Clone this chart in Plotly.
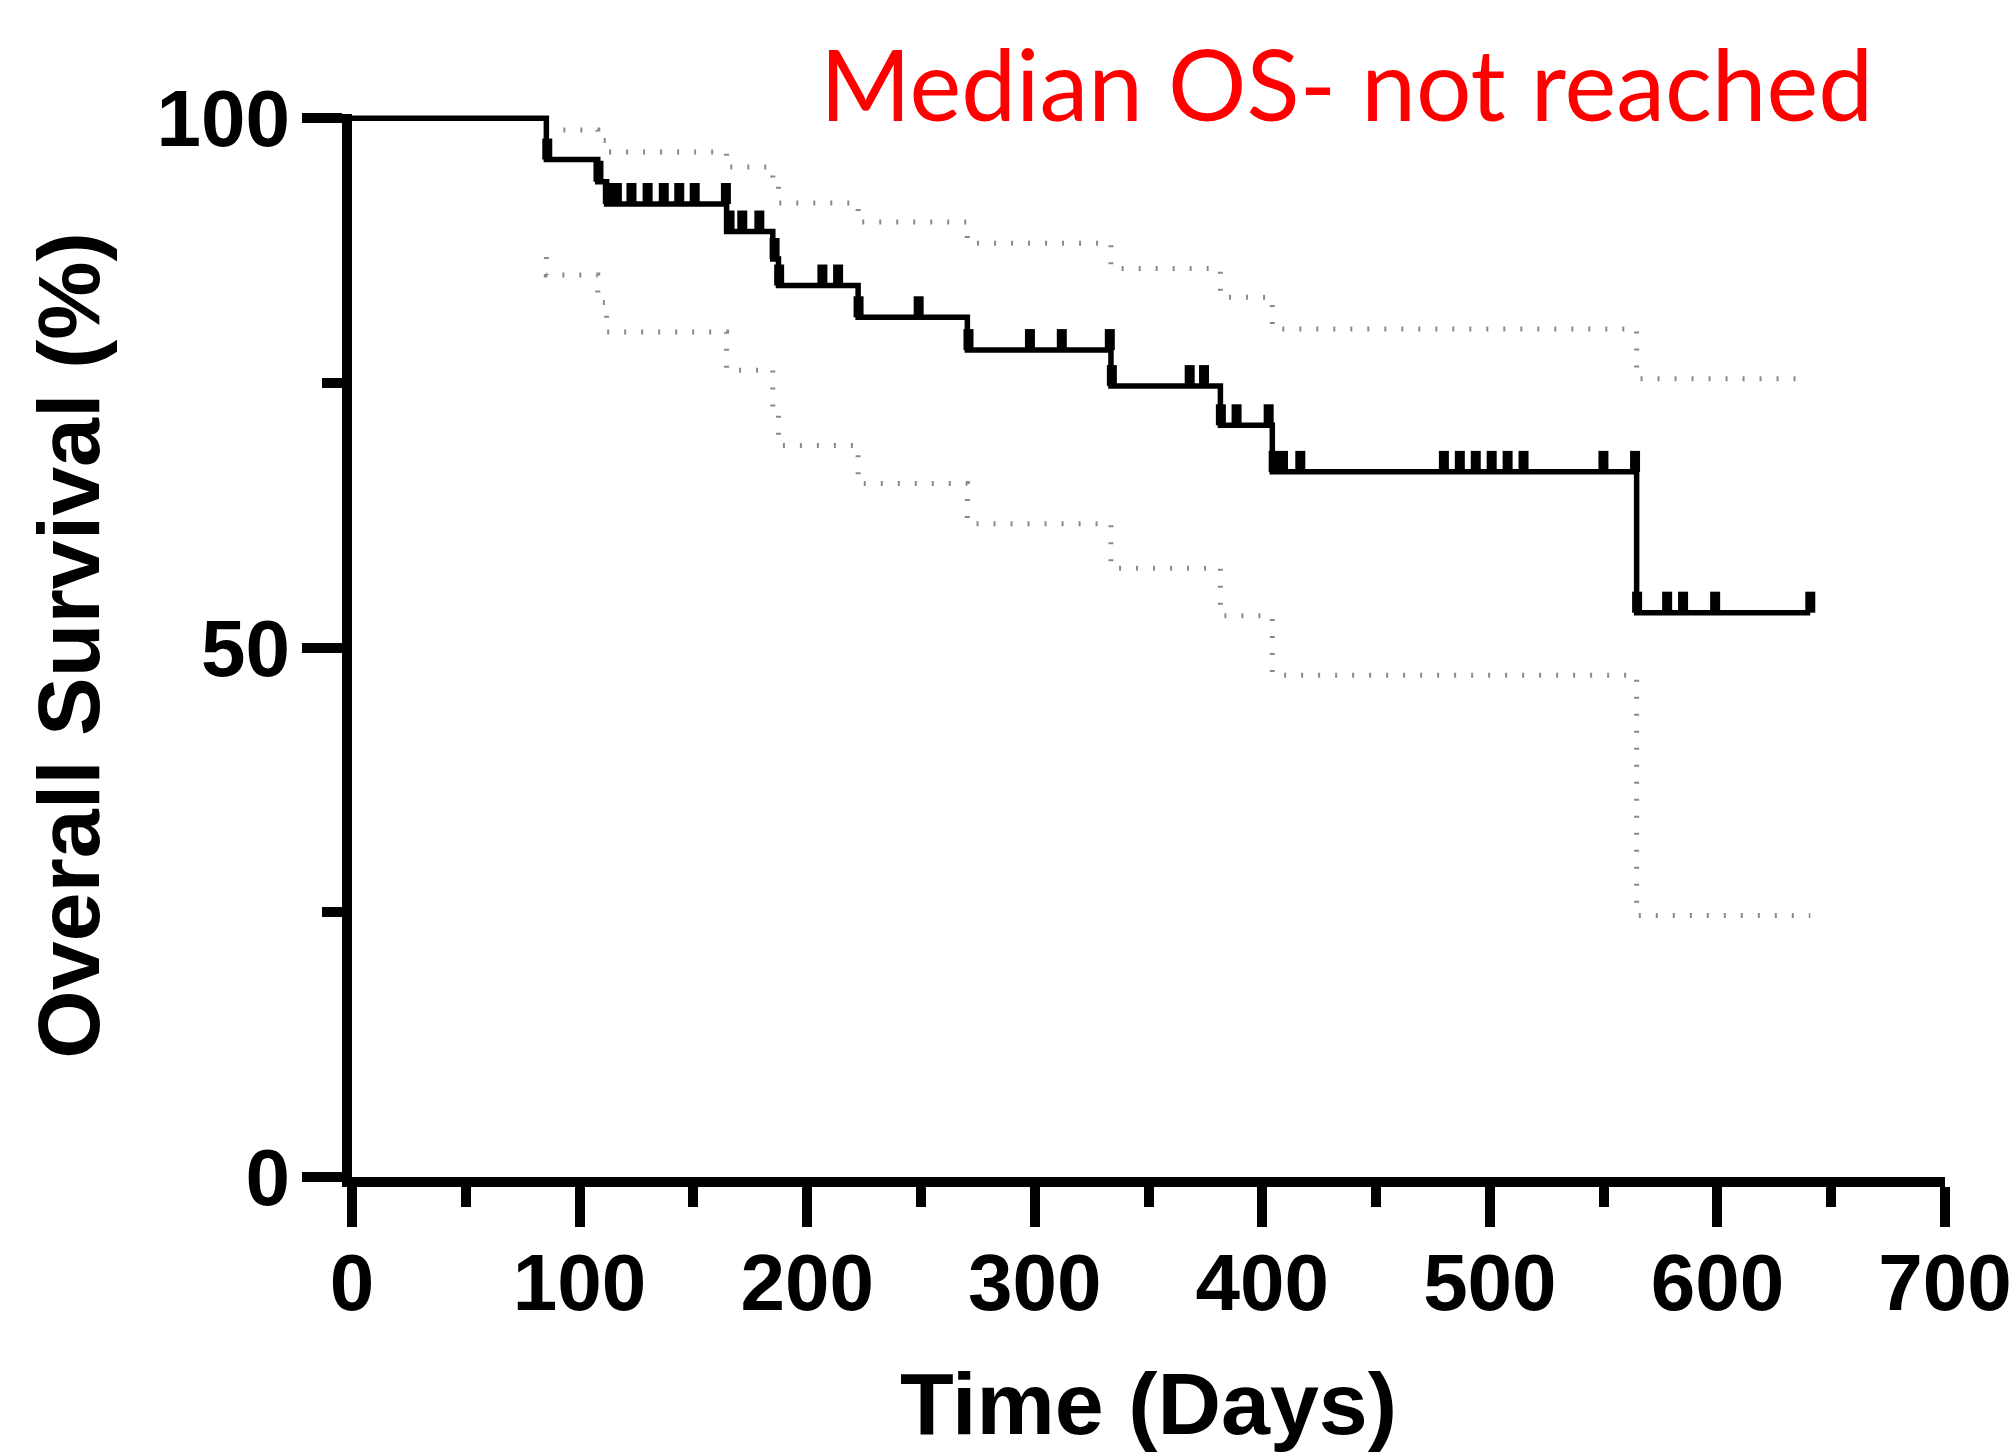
import plotly.graph_objects as go

# ---------------- data ----------------
# Kaplan-Meier step function: event times (days) and survival (%) after each step
km_time = [0, 85.4, 108.0, 111.9, 164.6, 184.9, 187.4, 222.4, 270.4, 333.5, 381.6, 404.4, 564.5]
km_surv = [100, 96.1, 94.0, 91.9, 89.3, 86.7, 84.2, 81.2, 78.1, 74.7, 71.0, 66.6, 53.3]
km_end = 640.8

# censored observations (days)
censor_time = [85.8, 108.3, 112.4, 116.4, 122.8, 129.9, 137.0, 143.8, 150.6, 164.3,
               165.9, 171.5, 179.0, 185.7, 187.7, 206.7, 213.6, 222.6, 249.0, 270.9,
               297.9, 311.9, 333.0, 333.9, 368.1, 374.4, 381.8, 388.7, 402.8, 405.0,
               409.1, 416.7, 479.8, 486.8, 493.8, 500.8, 507.8, 514.8, 549.9, 563.8,
               564.7, 577.9, 584.9, 599.0, 640.8]

# 95% confidence band (step functions)
ci_upper_time = [85.4, 108.0, 111.9, 164.6, 184.9, 187.4, 222.4, 270.4, 333.5, 381.6, 404.4, 564.5]
ci_upper = [98.9, 97.9, 96.8, 95.4, 93.9, 92.0, 90.2, 88.2, 85.8, 83.1, 80.1, 75.4]
ci_lower_time = [85.4, 85.4, 108.0, 111.9, 164.6, 184.9, 187.4, 222.4, 270.4, 333.5, 381.6, 404.4, 564.5]
ci_lower = [86.9, 85.2, 82.6, 79.8, 76.2, 72.7, 69.1, 65.5, 61.7, 57.5, 53.0, 47.4, 24.7]

x_ticks = [0, 100, 200, 300, 400, 500, 600, 700]
y_ticks = [0, 50, 100]
y_minor = [25, 75]
annotation_text = "Median OS- not reached"

# ---------------- layout geometry ----------------
W, H = 2013, 1453
ML, MR, MT, MB = 352, 68, 114, 276
XR = [0, 700]
YR = [0, 100.4]
plot_h = H - MT - MB
plot_w = W - ML - MR
px_per_pct = plot_h / (YR[1] - YR[0])
TICK_H = 21  # censor tick height in px


def level_at(t):
    lev = km_surv[0]
    for tt, s in zip(km_time, km_surv):
        if tt <= t:
            lev = s
    return lev


km_x = km_time + [km_end]
km_y = km_surv + [km_surv[-1]]
up_x = ci_upper_time + [km_end]
up_y = ci_upper + [ci_upper[-1]]
lo_x = ci_lower_time + [km_end]
lo_y = ci_lower + [ci_lower[-1]]

cens_y = [level_at(t) + (TICK_H / 2) / px_per_pct for t in censor_time]

fig = go.Figure()
ci_style = dict(color="#8a8a8a", width=5, dash="2px,15px", shape="hv")
fig.add_trace(go.Scatter(x=up_x, y=up_y, mode="lines", line=ci_style, hoverinfo="skip"))
fig.add_trace(go.Scatter(x=lo_x, y=lo_y, mode="lines", line=ci_style, hoverinfo="skip"))
fig.add_trace(go.Scatter(x=km_x, y=km_y, mode="lines",
                         line=dict(color="black", width=5.5, shape="hv")))
fig.add_trace(go.Scatter(x=censor_time, y=cens_y, mode="markers",
                         marker=dict(symbol="line-ns", size=TICK_H / 1.4,
                                     line=dict(color="black", width=10))))

tick_font = dict(family="Liberation Sans, Arial, sans-serif", size=80, color="black", weight="bold")
title_font = dict(family="Liberation Sans, Arial, sans-serif", size=88, color="black", weight="bold")

fig.update_layout(
    width=W, height=H,
    margin=dict(l=ML, r=MR, t=MT, b=MB, pad=0, autoexpand=False),
    paper_bgcolor="white", plot_bgcolor="white",
    showlegend=False,
    xaxis=dict(range=XR, tickvals=x_ticks, ticks="outside", ticklen=40, tickwidth=10,
               tickcolor="black", showline=True, linewidth=10, linecolor="black",
               showgrid=False, zeroline=False, tickfont=tick_font, automargin=False,
               ticklabelstandoff=-13,
               minor=dict(dtick=50, tick0=0, ticks="outside", ticklen=20, tickwidth=10,
                          tickcolor="black", showgrid=False),
               title=dict(text="Time (Days)", font=title_font, standoff=66)),
    yaxis=dict(range=YR, tickvals=y_ticks, ticks="outside", ticklen=40, tickwidth=10,
               tickcolor="black", showline=True, linewidth=10, linecolor="black",
               showgrid=False, zeroline=False, tickfont=tick_font, automargin=False,
               ticklabelstandoff=-4,
               minor=dict(tickvals=y_minor, ticks="outside", ticklen=20, tickwidth=10,
                          tickcolor="black", showgrid=False),
               title=dict(text="Overall Survival (%)", font=title_font, standoff=32)),
    annotations=[dict(text=annotation_text, xref="paper", yref="paper",
                      x=(818 - ML) / plot_w, y=1 + (MT - 22) / plot_h,
                      xanchor="left", yanchor="top", showarrow=False,
                      font=dict(family="Lato, sans-serif", size=98, color="#ff0000"))],
)

fig.write_html("out.html")
